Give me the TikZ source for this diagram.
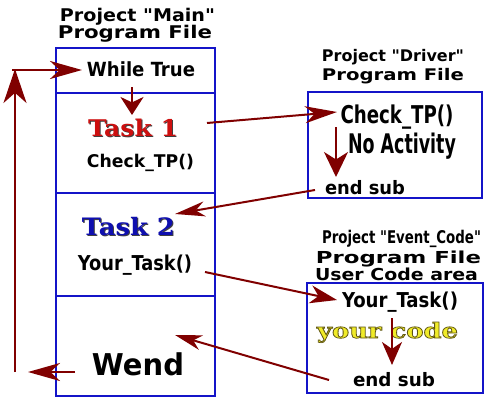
\documentclass[tikz,border=0pt]{standalone}
\usepackage{fontspec}
\usepackage{graphicx}
\usetikzlibrary{arrows.meta}
\setmainfont{DejaVu Sans}
\newfontfamily\widefont{DejaVu Sans}
\newfontfamily\condfont{DejaVu Sans Condensed}
\newfontfamily\slabfont{DejaVu Serif}
\definecolor{flowred}{RGB}{128,0,0}
\definecolor{boxblue}{RGB}{20,20,200}
\definecolor{taskred}{RGB}{205,15,15}
\definecolor{taskblue}{RGB}{15,15,175}
\definecolor{codeyellow}{RGB}{240,235,40}
% squeeze or stretch a text to a given width, keeping its height
\newcommand{\fitto}[2]{\resizebox{#1}{\height}{#2}}
\newcommand{\qt}{\symbol{34}}
% filled text with a dark olive outline (fill + stroke rendering mode)
\newcommand{\outlined}[1]{\textcolor{codeyellow}{\special{pdf:literal direct 0.37 0.33 0.08 RG 0.7 w 2 Tr}#1\special{pdf:literal direct 0 Tr}}}
\tikzset{
  panel/.style={draw=boxblue, line width=2.4pt},
  flow/.style={draw=flowred, line width=2pt},
  head/.style 2 args={-{Stealth[length=#1pt,width=#2pt,inset=0.3*#1pt]}},
  txt/.style={inner sep=0pt, anchor=base},
}
\newcommand{\fs}[1]{\fontsize{#1}{#1}\selectfont}
\begin{document}
\begin{tikzpicture}[x=1pt,y=-1pt]
\useasboundingbox (0,0) rectangle (490,404);
% ---- main program file
\node[txt, font=\widefont\bfseries\fs{17.5}] (mainT1) at (137.5,22) {\fitto{155pt}{Project \qt Main\qt}};
\node[txt, font=\widefont\bfseries\fs{17.5}] (mainT2) at (135,38.5) {\fitto{154pt}{Program File}};
\draw[panel] (56,48) rectangle (215,396);
\draw[panel] (56,93) -- (215,93);
\draw[panel] (56,193) -- (215,193);
\draw[panel] (56,296) -- (215,296);
\node[txt, font=\condfont\bfseries\fs{19.5}] (while) at (141,77) {\fitto{108pt}{While True}};
\node[txt, font=\slabfont\bfseries\fs{23}, text=black!75] (task1s) at (134,137) {\fitto{90pt}{Task 1}};
\node[txt, font=\slabfont\bfseries\fs{23}, text=taskred] (task1) at (133,136) {\fitto{90pt}{Task 1}};
\node[txt, font=\condfont\bfseries\fs{17.5}] (chk) at (140.5,167) {\fitto{107pt}{Check\_TP()}};
\node[txt, font=\slabfont\bfseries\fs{24}, text=black!75] (task2s) at (129.5,236) {\fitto{93pt}{Task 2}};
\node[txt, font=\slabfont\bfseries\fs{24}, text=taskblue] (task2) at (128.5,235) {\fitto{93pt}{Task 2}};
\node[txt, font=\condfont\bfseries\fs{20.5}] (your) at (135,270) {\fitto{114pt}{Your\_Task()}};
\node[txt, font=\widefont\bfseries\fs{30}] (wend) at (138,375) {\fitto{92pt}{Wend}};
% ---- driver program file
\node[txt, font=\widefont\bfseries\fs{16}] (drvT1) at (393,62) {\fitto{142pt}{Project \qt Driver\qt}};
\node[txt, font=\widefont\bfseries\fs{16}] (drvT2) at (393,81) {\fitto{142pt}{Program File}};
\draw[panel] (308,92) rectangle (482,198);
\node[txt, font=\condfont\bfseries\fs{24.5}] (dchk) at (397,123) {\fitto{113pt}{Check\_TP()}};
\node[txt, font=\condfont\bfseries\fs{27}] (noact) at (402,153) {\fitto{108pt}{No Activity}};
\node[txt, font=\condfont\bfseries\fs{18.5}] (dend) at (365,194) {\fitto{80pt}{end sub}};
% ---- event code program file
\node[txt, font=\condfont\bfseries\fs{17.5}] (evT1) at (401.5,243) {\fitto{159pt}{Project \qt Event\_Code\qt}};
\node[txt, font=\widefont\bfseries\fs{16.5}] (evT2) at (398.5,263) {\fitto{165pt}{Program File}};
\node[txt, font=\widefont\bfseries\fs{16.5}] (evT3) at (396.5,280) {\fitto{163pt}{User Code area}};
\draw[panel] (307,283) rectangle (483,393);
\node[txt, font=\condfont\bfseries\fs{20.5}] (eyour) at (400,307) {\fitto{116pt}{Your\_Task()}};
\node[txt, font=\slabfont\bfseries\fs{21}] (ycode) at (387.5,338) {\fitto{141pt}{\outlined{your code}}};
\node[txt, font=\condfont\bfseries\fs{18.5}] (eend) at (394,386) {\fitto{82pt}{end sub}};
% ---- flow of control
\coordinate (loopIn) at (12,70);
\coordinate (loopBot) at (15,372);
\coordinate (loopTop) at (15,69);
\coordinate (wendOut) at (28,372);
\draw[flow, head={32}{18}] (loopIn) -- (82,70);
\draw[flow, head={18}{23}] (132,87) -- (132,115);
\draw[flow, head={32}{17}] (207,123) -- (337,112);
\draw[flow, head={25}{24}] (336,127) -- (336,177);
\draw[flow, head={30}{15}] (315,190) -- (175,214);
\draw[flow, head={27}{18}] (205,272) -- (337,300);
\draw[flow, head={23}{20}] (392,318) -- (392,365);
\draw[flow, head={27}{15}] (329,380) -- (175,335);
\draw[flow, head={32}{18}] (75,372) -- (wendOut);
\draw[flow, head={34}{23}] (loopBot) -- (loopTop);
\end{tikzpicture}
\end{document}
